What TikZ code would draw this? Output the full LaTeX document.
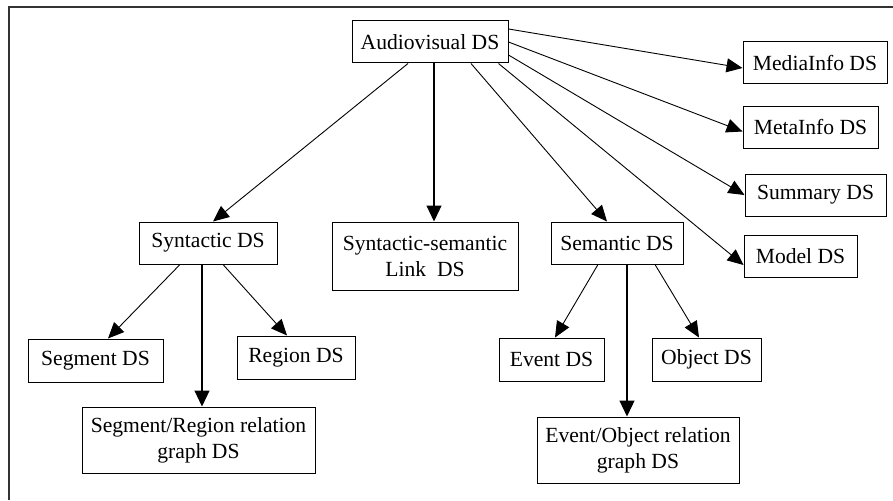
\documentclass[tikz,border=0pt]{standalone}
\usepackage{fontspec}
\setmainfont{Liberation Serif}
\usetikzlibrary{arrows.meta}
\tikzset{
  dsbox/.style={draw, line width=1pt, inner sep=0pt, align=center,
    font=\fontsize{21.6}{26}\selectfont},
  conn/.style={line width=0.9pt, -{Triangle[length=16pt,width=14pt]}},
  vconn/.style={line width=1.2pt, -{Triangle[length=16pt,width=15pt]}}
}
\begin{document}
\begin{tikzpicture}[x=1pt,y=-1pt]
\useasboundingbox (0,0) rectangle (893,500);
\fill[white] (0,0) rectangle (893,500);
\draw[line width=1.4pt, black!80] (9,500) -- (9,7) -- (893,7);

\node[dsbox, minimum width=156pt, minimum height=42pt] (av) at (430,42) {Audiovisual DS};
\node[dsbox, minimum width=144pt, minimum height=42pt] (media) at (815,63) {MediaInfo DS};
\node[dsbox, minimum width=135pt, minimum height=41pt] (meta) at (810.5,127.5) {MetaInfo DS};
\node[dsbox, minimum width=141pt, minimum height=42pt] (sum) at (815.5,195) {Summary DS};
\node[dsbox, minimum width=113pt, minimum height=42pt] (model) at (800.5,256) {Model DS};

\node[dsbox, minimum width=138pt, minimum height=42pt] (syn) at (208,243) {Syntactic DS};
\node[dsbox, minimum width=186pt, minimum height=68pt] (link) at (425,256) {Syntactic-semantic\\Link~~DS};
\node[dsbox, minimum width=132pt, minimum height=42pt] (sem) at (617,243) {Semantic DS};

\node[dsbox, minimum width=135pt, minimum height=43pt] (seg) at (95.5,360.5) {Segment DS};
\node[dsbox, minimum width=118pt, minimum height=43pt] (reg) at (296,357.5) {Region DS};
\node[dsbox, minimum width=233pt, minimum height=66pt] (sr) at (198.5,440) {Segment/Region relation\\graph DS};

\node[dsbox, minimum width=105pt, minimum height=43pt] (ev) at (551.5,359.5) {Event DS};
\node[dsbox, minimum width=109pt, minimum height=43pt] (obj) at (706.5,359.5) {Object DS};
\node[dsbox, minimum width=202pt, minimum height=66pt] (eo) at (638,450) {Event/Object relation\\graph DS};

% from Audiovisual DS
\draw[conn] ([xshift=-22pt]av.south) -- ([xshift=5pt]syn.north);
\draw[vconn] ([xshift=4pt]av.south) -- ([xshift=9pt]link.north);
\draw[conn] ([xshift=41pt]av.south) -- ([xshift=-10pt]sem.north);
\draw[conn] ([yshift=13pt]av.east) -- ([yshift=-5pt]media.west);
\draw[conn] (av.east) -- ([yshift=-4pt]meta.west);
\draw[conn] ([yshift=-13pt]av.east) -- (sum.west);
\draw[conn] ([xshift=-10pt]av.south east) -- ([yshift=-9pt]model.west);

% from Syntactic DS
\draw[conn] ([xshift=-28pt]syn.south) -- ([xshift=12.5pt]seg.north);
\draw[vconn] ([xshift=-6pt]syn.south) -- ([xshift=3.5pt]sr.north);
\draw[conn] ([xshift=15pt]syn.south) -- ([xshift=-9pt]reg.north);

% from Semantic DS
\draw[conn] ([xshift=-19pt]sem.south) -- ([xshift=3.5pt]ev.north);
\draw[vconn] ([xshift=10pt]sem.south) -- ([xshift=-11pt]eo.north);
\draw[conn] ([xshift=38pt]sem.south) -- ([xshift=-7.5pt]obj.north);
\end{tikzpicture}
\end{document}
